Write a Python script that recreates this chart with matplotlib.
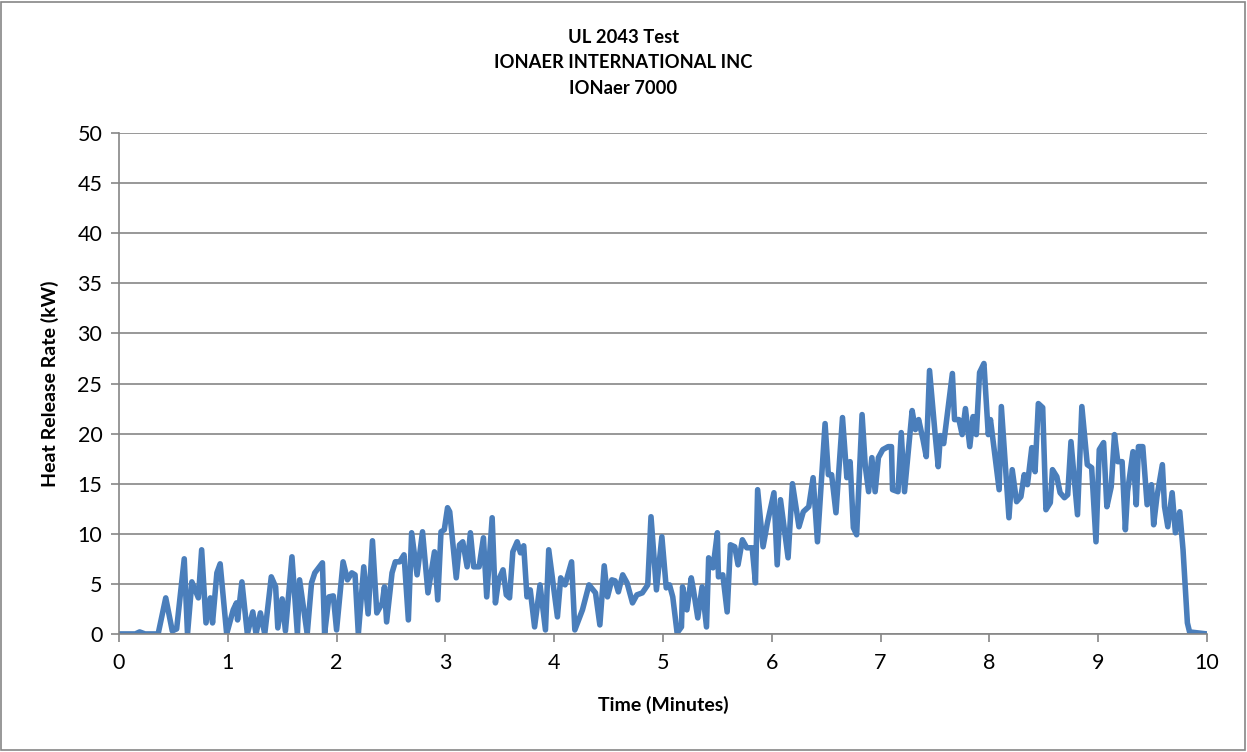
import matplotlib
matplotlib.use("Agg")
import matplotlib.pyplot as plt
from matplotlib.patches import Rectangle

# ----- Data -----
time_min = [
    0.00, 0.10, 0.15, 0.19, 0.24, 0.36, 0.43, 0.49, 0.53, 0.60, 0.63, 0.67, 0.73, 0.76,
    0.80, 0.84, 0.86, 0.90, 0.93, 0.99, 1.05, 1.08, 1.09, 1.13, 1.18, 1.23, 1.26, 1.30,
    1.34, 1.40, 1.44, 1.46, 1.50, 1.53, 1.59, 1.64, 1.66, 1.73, 1.77, 1.80, 1.87, 1.89,
    1.93, 1.97, 2.00, 2.06, 2.10, 2.14, 2.17, 2.20, 2.25, 2.29, 2.33, 2.37, 2.42, 2.44,
    2.46, 2.51, 2.54, 2.58, 2.62, 2.66, 2.69, 2.74, 2.79, 2.84, 2.90, 2.93, 2.96, 2.99,
    3.02, 3.04, 3.10, 3.13, 3.16, 3.20, 3.23, 3.26, 3.31, 3.35, 3.38, 3.43, 3.46, 3.49,
    3.53, 3.56, 3.59, 3.62, 3.66, 3.69, 3.72, 3.75, 3.78, 3.82, 3.87, 3.92, 3.95, 4.03,
    4.06, 4.10, 4.16, 4.19, 4.26, 4.32, 4.38, 4.42, 4.46, 4.49, 4.53, 4.56, 4.59, 4.63,
    4.67, 4.72, 4.76, 4.81, 4.86, 4.89, 4.94, 4.99, 5.03, 5.06, 5.09, 5.13, 5.17, 5.18,
    5.22, 5.26, 5.28, 5.32, 5.36, 5.40, 5.42, 5.46, 5.50, 5.51, 5.55, 5.59, 5.62, 5.66,
    5.69, 5.73, 5.77, 5.82, 5.85, 5.87, 5.92, 5.96, 6.02, 6.05, 6.08, 6.15, 6.19, 6.25,
    6.29, 6.34, 6.38, 6.42, 6.49, 6.52, 6.55, 6.59, 6.65, 6.69, 6.72, 6.75, 6.78, 6.83,
    6.86, 6.89, 6.92, 6.95, 6.98, 7.02, 7.07, 7.10, 7.11, 7.16, 7.19, 7.22, 7.29, 7.32,
    7.35, 7.39, 7.42, 7.45, 7.50, 7.53, 7.55, 7.58, 7.66, 7.68, 7.72, 7.75, 7.78, 7.82,
    7.85, 7.88, 7.91, 7.95, 7.99, 8.01, 8.09, 8.11, 8.18, 8.21, 8.25, 8.29, 8.32, 8.35,
    8.39, 8.42, 8.45, 8.49, 8.52, 8.56, 8.58, 8.62, 8.65, 8.69, 8.72, 8.75, 8.81, 8.85,
    8.90, 8.94, 8.98, 9.01, 9.05, 9.08, 9.12, 9.15, 9.18, 9.22, 9.25, 9.27, 9.32, 9.35,
    9.37, 9.41, 9.45, 9.49, 9.51, 9.54, 9.59, 9.61, 9.64, 9.68, 9.71, 9.75, 9.78, 9.82,
    9.84, 10.00,
]
hrr_kw = [
    0.0, 0.0, 0.0, 0.2, 0.0, 0.0, 3.6, 0.3, 0.5, 7.5, 0.0, 5.2, 3.6, 8.4,
    1.1, 3.6, 1.1, 6.1, 7.0, 0.0, 2.4, 3.1, 1.4, 5.2, 0.0, 2.2, 0.0, 2.1,
    0.0, 5.7, 4.7, 0.6, 3.5, 0.3, 7.7, 0.0, 5.4, 0.0, 5.1, 6.1, 7.1, 0.0,
    3.7, 3.8, 0.4, 7.2, 5.4, 6.1, 5.9, 0.0, 6.7, 2.0, 9.3, 2.1, 3.1, 4.7,
    1.2, 6.1, 7.2, 7.2, 7.9, 1.4, 10.1, 5.9, 10.2, 4.1, 8.2, 3.4, 10.2, 10.4,
    12.6, 12.2, 5.6, 8.9, 9.2, 6.7, 10.1, 6.7, 6.7, 9.6, 3.7, 11.6, 3.1, 5.4,
    6.4, 3.9, 3.6, 8.2, 9.2, 8.1, 8.8, 3.7, 4.4, 0.7, 4.9, 0.4, 8.4, 1.7,
    5.6, 4.9, 7.2, 0.4, 2.4, 4.9, 4.1, 0.9, 6.8, 3.7, 5.4, 5.3, 4.2, 5.9,
    5.1, 3.1, 3.9, 4.1, 4.9, 11.7, 4.4, 9.7, 4.6, 4.9, 3.7, 0.1, 0.7, 4.7,
    2.4, 5.6, 4.4, 1.6, 4.7, 0.7, 7.6, 6.6, 10.1, 5.7, 5.9, 2.2, 8.9, 8.7,
    6.9, 9.4, 8.6, 8.6, 5.1, 14.4, 8.7, 11.1, 14.1, 6.9, 13.4, 7.6, 15.0, 10.7,
    12.2, 12.7, 15.6, 9.2, 21.0, 15.9, 15.9, 12.1, 21.6, 15.6, 17.2, 10.6, 9.9, 21.9,
    16.7, 14.2, 17.6, 14.2, 17.6, 18.4, 18.7, 18.7, 14.4, 14.2, 20.1, 14.2, 22.3, 20.4,
    21.4, 19.4, 17.7, 26.3, 20.1, 16.7, 19.8, 19.0, 26.0, 21.4, 21.4, 19.9, 22.5, 18.7,
    21.7, 19.9, 26.1, 27.0, 19.9, 21.4, 14.4, 22.7, 11.6, 16.4, 13.2, 13.7, 15.9, 14.9,
    18.6, 16.2, 23.0, 22.6, 12.4, 13.1, 16.4, 15.7, 14.1, 13.6, 13.9, 19.2, 11.9, 22.7,
    16.9, 16.6, 9.2, 18.4, 19.1, 12.7, 14.7, 19.9, 17.2, 17.2, 10.4, 14.2, 18.2, 12.9,
    18.7, 18.7, 12.9, 14.9, 10.9, 13.7, 16.9, 12.7, 10.7, 14.1, 10.1, 12.2, 8.4, 1.1,
    0.2, 0.0,
]

title_lines = ["UL 2043 Test", "IONAER INTERNATIONAL INC", "IONaer 7000"]
x_ticks = list(range(0, 11))
y_ticks = list(range(0, 51, 5))

# ----- Style -----
LINE_BLUE = "#4A7EBB"
GRID_GREY = "#868686"
plt.rcParams["font.family"] = ["Lato", "DejaVu Sans"]

fig = plt.figure(figsize=(12.47, 7.52), dpi=100)
ax = fig.add_axes([0.0954, 0.157, 0.8725, 0.666])

ax.plot(time_min, hrr_kw, color=LINE_BLUE, linewidth=4.0, solid_joinstyle="round")

ax.set_xlim(0, 10)
ax.set_ylim(0, 50)
ax.set_xticks(x_ticks)
ax.set_yticks(y_ticks)
ax.tick_params(axis="both", labelsize=15.5, colors=GRID_GREY, labelcolor="black",
               length=6, width=1.2, direction="out")
ax.tick_params(axis="x", pad=8)
ax.tick_params(axis="y", pad=6)
ax.yaxis.grid(True, color=GRID_GREY, linewidth=1.2)
ax.set_axisbelow(True)
for side in ["top", "right"]:
    ax.spines[side].set_visible(False)
for side in ["left", "bottom"]:
    ax.spines[side].set_color(GRID_GREY)
    ax.spines[side].set_linewidth(1.2)

ax.set_xlabel("Time (Minutes)", fontsize=14, fontweight="bold", labelpad=16)
ax.set_ylabel("Heat Release Rate (kW)", fontsize=14, fontweight="bold", labelpad=13)

fig.text(0.5, 0.962, "\n".join(title_lines), ha="center", va="top",
         fontsize=13.2, fontweight="bold", linespacing=1.62)

# outer chart border
fig.patches.append(Rectangle((0.001, 0.002), 0.997, 0.996, transform=fig.transFigure,
                             fill=False, edgecolor=GRID_GREY, linewidth=1.2))

fig.savefig("out.png", dpi=100)
